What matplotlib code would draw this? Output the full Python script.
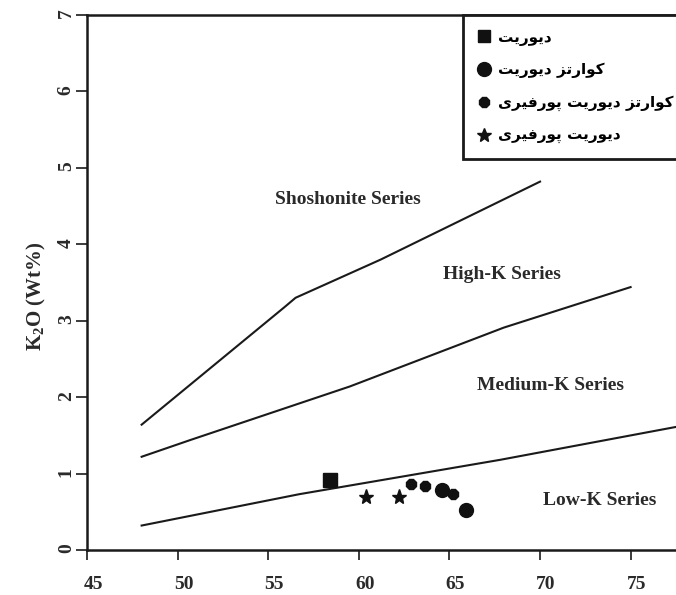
import matplotlib
matplotlib.use("Agg")
import matplotlib.pyplot as plt
import matplotlib.transforms as mtransforms
from matplotlib.lines import Line2D

plt.rcParams['font.family'] = ['Liberation Serif', 'DejaVu Serif']
plt.rcParams['font.weight'] = 'bold'
plt.rcParams['mathtext.fontset'] = 'custom'
plt.rcParams['mathtext.rm'] = 'Liberation Serif:bold'
plt.rcParams['mathtext.bf'] = 'Liberation Serif:bold'

# series boundary lines (SiO2, K2O)
low_x = [48, 56.7, 67.8, 77.5]
low_y = [0.32, 0.73, 1.18, 1.61]
mid_x = [48, 50.7, 59.5, 68.0, 75.0]
mid_y = [1.22, 1.44, 2.14, 2.91, 3.44]
sho_x = [48, 55.9, 56.5, 61.2, 70.0]
sho_y = [1.64, 3.18, 3.30, 3.80, 4.82]

# samples
diorite_x = [58.4]
diorite_y = [0.92]
qdiorite_x = [64.6, 65.9]
qdiorite_y = [0.79, 0.52]
qdior_porph_x = [62.9, 63.65, 65.2]
qdior_porph_y = [0.86, 0.84, 0.73]
dior_porph_x = [60.4, 62.2]
dior_porph_y = [0.69, 0.70]

legend_labels = ['دیوریت', 'کوارتز دیوریت', 'کوارتز دیوریت پورفیری', 'دیوریت پورفیری']

series_names = ['Shoshonite Series', 'High-K Series', 'Medium-K Series', 'Low-K Series']
series_x = [59.4, 67.9, 70.6, 73.3]
series_y = [4.58, 3.60, 2.15, 0.65]

x_ticks = [45, 50, 55, 60, 65, 70, 75]
y_ticks = [0, 1, 2, 3, 4, 5, 6, 7]


# matplotlib has no arabic shaping, so pick presentation forms by hand
# (isolated, final, initial, medial)
FORMS = {
    'ا': ('\uFE8D', '\uFE8E', None, None),
    'د': ('\uFEA9', '\uFEAA', None, None),
    'ر': ('\uFEAD', '\uFEAE', None, None),
    'ز': ('\uFEAF', '\uFEB0', None, None),
    'و': ('\uFEED', '\uFEEE', None, None),
    'ت': ('\uFE95', '\uFE96', '\uFE97', '\uFE98'),
    'ف': ('\uFED1', '\uFED2', '\uFED3', '\uFED4'),
    'ک': ('\uFB8E', '\uFB8F', '\uFB90', '\uFB91'),
    'پ': ('\uFB56', '\uFB57', '\uFB58', '\uFB59'),
    'ی': ('\uFBFC', '\uFBFD', '\uFBFE', '\uFBFF'),
}


def shape(s):
    out = []
    for i, c in enumerate(s):
        if c not in FORMS:
            out.append(c)
            continue
        prev = s[i - 1] if i > 0 else ''
        nxt = s[i + 1] if i < len(s) - 1 else ''
        join_prev = prev in FORMS and FORMS[prev][2] is not None
        join_next = FORMS[c][2] is not None and nxt in FORMS
        f = FORMS[c]
        if join_prev and join_next:
            out.append(f[3])
        elif join_prev:
            out.append(f[1])
        elif join_next:
            out.append(f[2])
        else:
            out.append(f[0])
    return ''.join(out)[::-1]


fig = plt.figure(figsize=(6.76, 5.95), dpi=100)
ax = fig.add_axes([87.3 / 676, 45 / 595, 588.7 / 676, 535 / 595])

for xs, ys in [(low_x, low_y), (mid_x, mid_y), (sho_x, sho_y)]:
    ax.plot(xs, ys, color='#1a1a1a', lw=1.5)

ax.plot(diorite_x, diorite_y, 's', color='#111111', ms=9.5, ls='none')
ax.plot(qdiorite_x, qdiorite_y, 'o', color='#111111', ms=10, ls='none')
ax.plot(qdior_porph_x, qdior_porph_y, '8', color='#111111', ms=8, ls='none')
ax.plot(dior_porph_x, dior_porph_y, '*', color='#111111', ms=11, ls='none')

for name, x, y in zip(series_names, series_x, series_y):
    ax.text(x, y, name, ha='center', va='center', fontsize=14,
            fontweight='bold', color='#2a2a2a')

handles = [
    Line2D([], [], marker='s', color='#111111', ms=8.5, ls='none'),
    Line2D([], [], marker='o', color='#111111', ms=10, ls='none'),
    Line2D([], [], marker='8', color='#111111', ms=7.5, ls='none'),
    Line2D([], [], marker='*', color='#111111', ms=10, ls='none'),
]
leg = ax.legend(handles, [shape(t) for t in legend_labels],
                loc='upper left', bbox_to_anchor=(376 / 588.7, 1.0),
                borderaxespad=0, fancybox=False, framealpha=1,
                edgecolor='#1a1a1a', handlelength=0.78, handletextpad=0.55,
                labelspacing=1.1, borderpad=0.95,
                prop={'family': ['DejaVu Sans'], 'weight': 'bold', 'size': 11})
leg.get_frame().set_linewidth(2)

ax.set_xlim(45, 45 + 588.7 / 18.11)
ax.set_ylim(0, 7)
ax.set_xticks(x_ticks)
ax.set_yticks(y_ticks)
ax.tick_params(axis='both', direction='out', width=1.2, color='#1a1a1a',
               labelsize=14, labelcolor='#2a2a2a')
ax.tick_params(axis='x', length=7, pad=12)
ax.tick_params(axis='y', length=8, pad=1, labelrotation=90)
for lab in ax.get_xticklabels():
    lab.set_transform(lab.get_transform() +
                      mtransforms.ScaledTranslation(6 / 100, 0, fig.dpi_scale_trans))

ax.spines['right'].set_visible(False)
for s in ['left', 'bottom', 'top']:
    ax.spines[s].set_linewidth(1.8)
    ax.spines[s].set_color('#1a1a1a')

ax.set_ylabel('K$_\\mathrm{2}$O (Wt%)', fontsize=15, fontweight='bold',
              color='#2a2a2a')
ax.yaxis.set_label_coords(-0.067, 0.475)

fig.savefig('out.png', dpi=100)
